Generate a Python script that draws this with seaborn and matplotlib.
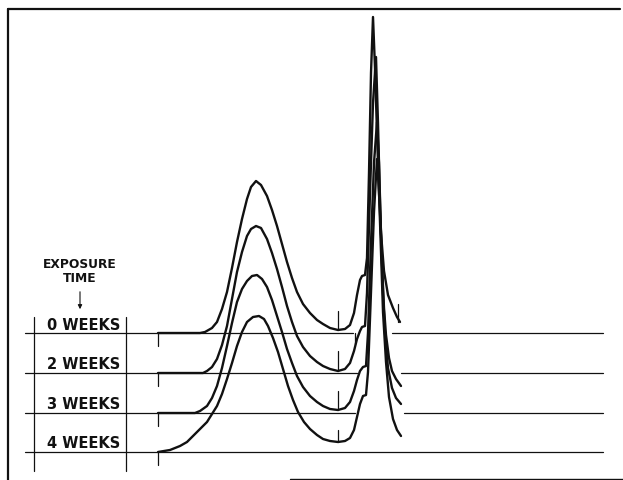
import matplotlib
matplotlib.use("Agg")
import pandas as pd
import seaborn as sns
import matplotlib.pyplot as plt

# exposure series, baseline of each trace (chart units, y up)
labels = ["0 WEEKS", "2 WEEKS", "3 WEEKS", "4 WEEKS"]
offsets = [147, 107, 67, 28]

# detector trace: retention position / height above baseline
x0 = [158, 200, 205, 212, 217, 222, 227, 232, 237, 242, 247, 251, 256, 261, 267, 272,
      277, 282, 287, 292, 297, 303, 310, 317, 323, 330, 338, 345, 350, 354, 357, 360,
      362, 365, 367, 369, 371, 373, 375, 377, 379, 381, 384, 388, 393, 397, 400]
h0 = [0, 0, 1, 5, 11, 24, 41, 65, 91, 114, 134, 146, 152, 148, 137, 123,
      107, 89, 71, 55, 41, 29, 20, 13, 9, 5, 3, 4, 8, 20, 38, 53,
      57, 58, 75, 160, 260, 316, 265, 200, 140, 100, 62, 38, 25, 16, 11]

x2 = [158, 203, 207, 212, 217, 222, 227, 232, 237, 242, 247, 251, 256, 261, 267, 272,
      277, 282, 287, 292, 297, 303, 310, 317, 323, 330, 338, 345, 350, 354, 357, 360,
      362, 365, 367, 370, 373, 376, 378, 380, 382, 384, 386, 389, 392, 396, 401]
h2 = [0, 0, 2, 6, 14, 28, 47, 74, 101, 121, 137, 144, 147, 145, 134, 120,
      104, 86, 67, 51, 37, 26, 17, 11, 7, 4, 2, 4, 10, 22, 34, 42,
      46, 47, 80, 180, 270, 316, 250, 170, 110, 65, 38, 15, 2, -6, -13]

x3 = [158, 195, 200, 207, 212, 217, 222, 227, 232, 237, 242, 247, 252, 257, 262, 267,
      272, 277, 282, 287, 292, 297, 303, 310, 317, 323, 330, 338, 345, 350, 354, 357,
      360, 363, 366, 368, 371, 374, 377, 379, 381, 383, 385, 388, 392, 396, 401]
h3 = [0, 0, 2, 7, 15, 27, 45, 67, 90, 111, 124, 132, 137, 138, 134, 126,
      113, 97, 81, 64, 50, 37, 26, 17, 11, 7, 4, 3, 5, 11, 22, 33,
      42, 46, 47, 80, 170, 250, 291, 250, 180, 120, 80, 45, 25, 15, 9]

x4 = [158, 170, 180, 187, 193, 200, 207, 212, 217, 222, 227, 232, 237, 242, 247, 253,
      259, 264, 268, 273, 278, 283, 288, 293, 298, 304, 310, 317, 323, 330, 338, 345,
      350, 354, 357, 360, 363, 366, 368, 371, 374, 377, 379, 381, 383, 386, 389, 393,
      397, 401]
h4 = [0, 2, 6, 10, 16, 23, 30, 38, 46, 58, 73, 89, 106, 120, 130, 135,
      136, 133, 126, 114, 100, 83, 66, 52, 40, 30, 23, 17, 13, 11, 10, 11,
      14, 22, 35, 48, 56, 57, 80, 160, 240, 293, 260, 200, 140, 90, 55, 33,
      22, 16]

# baseline extents and marker ticks
base_left_end = [353, 357, 355, 603]
base_right_start = [392, 401, 404, None]
valley_h = [3, 2, 3, 10]

ink = "#111111"

rows = []
for lab, off, xs, hs in zip(labels, offsets, [x0, x2, x3, x4], [h0, h2, h3, h4]):
    for x, h in zip(xs, hs):
        rows.append({"trace": lab, "x": x, "y": off + h})
df = pd.DataFrame(rows)

sns.set_style("white")
fig = plt.figure(figsize=(6.23, 4.81), dpi=100)
ax = fig.add_axes([0, 0, 1, 1])
ax.set_xlim(0, 623)
ax.set_ylim(0, 481)
ax.axis("off")

sns.lineplot(data=df, x="x", y="y", units="trace", estimator=None, sort=False,
             color=ink, lw=1.7, ax=ax, legend=False)

for i, off in enumerate(offsets):
    # thin baselines
    ax.plot([25, base_left_end[i]], [off, off], color=ink, lw=0.9)
    if base_right_start[i] is not None:
        ax.plot([base_right_start[i], 603], [off, off], color=ink, lw=0.9)
    # start tick and valley tick
    ax.plot([158, 158], [off, off - 13], color=ink, lw=0.9)
    ax.plot([338, 338], [off + valley_h[i], off + 22], color=ink, lw=0.9)
    # row labels
    ax.text(84, off + 9, labels[i], ha="center", va="center",
            fontsize=10.5, fontweight="bold", color=ink)

# extra marks on the 0 weeks trace
ax.plot([398, 398], [offsets[0] + 11, offsets[0] + 29], color=ink, lw=0.9)
ax.plot([355, 355], [offsets[0], offsets[0] - 11], color=ink, lw=0.9)

# table rules
ax.plot([34, 34], [9, 163], color=ink, lw=0.9)
ax.plot([126, 126], [9, 163], color=ink, lw=0.9)

# header and arrow
ax.text(80, 216, "EXPOSURE", ha="center", va="center", fontsize=8.8,
        fontweight="bold", color=ink)
ax.text(80, 202, "TIME", ha="center", va="center", fontsize=8.8,
        fontweight="bold", color=ink)
ax.annotate("", xy=(80, 168), xytext=(80, 191),
            arrowprops=dict(arrowstyle="-|>", color=ink, lw=0.8,
                            mutation_scale=6))

# frame
ax.plot([8, 8], [0, 471], color=ink, lw=1.6)
ax.plot([8, 620], [471, 471], color=ink, lw=1.6)
ax.plot([290, 623], [1.5, 1.5], color=ink, lw=1.0)

fig.savefig("out.png", dpi=100)
